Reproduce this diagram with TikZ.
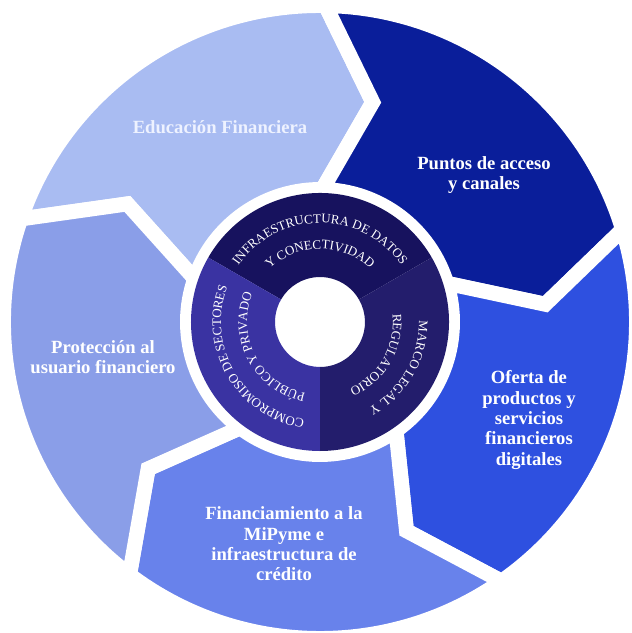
\documentclass[tikz,border=0pt]{standalone}
\usepackage{fontspec}
\setmainfont{Liberation Serif}
\usetikzlibrary{decorations.text}

\definecolor{edublue}{HTML}{A9BCF2}
\definecolor{puntoblue}{HTML}{0A1E9A}
\definecolor{ofertablue}{HTML}{2E50E0}
\definecolor{finblue}{HTML}{6882EB}
\definecolor{protblue}{HTML}{8A9EE8}
\definecolor{hubtop}{HTML}{17125E}
\definecolor{hubright}{HTML}{231D6C}
\definecolor{hubleft}{HTML}{3A33A2}
\definecolor{edutext}{HTML}{EEF2FF}

% radii of the outer arrow ring and the inner hub
\newcommand*{\ringouter}{316.5}
\newcommand*{\ringmid}{226}
\newcommand*{\ringinner}{132.5}
\newcommand*{\hubouter}{129}
\newcommand*{\hubinner}{45}
\newcommand*{\ringfont}{\fontsize{7.4}{8}\selectfont}

\tikzset{
  segment/.style={draw=white, line width=8.5pt, line join=miter},
  seglabel/.style={text=white, align=center, font=\bfseries\fontsize{10.6}{11.6}\selectfont},
  ringtext/.style={decorate, decoration={text along path, text align=center, text color=white, text={#1}}}
}

\begin{document}
\begin{tikzpicture}[x=0.02cm, y=0.02cm]
\useasboundingbox (-320,-311) rectangle (312,322);

% outer arrows, running clockwise
\foreach \a/\b/\c in {161/89/edublue, 89/17/puntoblue, 17/-55/ofertablue, -55/-127/finblue, -127/-199/protblue}
  \path[segment, fill=\c] (\a:\ringouter) arc[start angle=\a, end angle=\b, radius=\ringouter]
    -- ({\b-12.5}:\ringmid) -- (\b:\ringinner)
    arc[start angle=\b, end angle=\a, radius=\ringinner] -- ({\a-12.5}:\ringmid) -- cycle;

% hub with three sectors
\foreach \a/\b/\c in {150/30/hubtop, 30/-90/hubright, 270/150/hubleft}
  \fill[\c] (\a:\hubouter) arc[start angle=\a, end angle=\b, radius=\hubouter]
    -- (\b:\hubinner) arc[start angle=\b, end angle=\a, radius=\hubinner] -- cycle;

\node[seglabel, text=edutext] (edu) at (-100,195) {Educación Financiera};
\node[seglabel] (puntos) at (164,147) {Puntos de acceso\\y canales};
\node[seglabel] (oferta) at (209,-98) {Oferta de\\productos y\\servicios\\financieros\\digitales};
\node[seglabel] (finan) at (-36,-222) {Financiamiento a la\\MiPyme e\\infraestructura de\\crédito};
\node[seglabel] (prot) at (-217,-35) {Protección al\\usuario financiero};

% curved hub labels
\path[ringtext={|\ringfont|INFRAESTRUCTURA DE DATOS}] (170:99) arc[start angle=170, end angle=10, radius=99];
\path[ringtext={|\ringfont|Y CONECTIVIDAD}] (170:73) arc[start angle=170, end angle=10, radius=73];
\path[ringtext={|\ringfont|MARCO LEGAL Y}] (50:99) arc[start angle=50, end angle=-110, radius=99];
\path[ringtext={|\ringfont|REGULATORIO}] (50:73) arc[start angle=50, end angle=-110, radius=73];
\path[ringtext={|\ringfont|COMPROMISO DE SECTORES}] (290:99) arc[start angle=290, end angle=130, radius=99];
\path[ringtext={|\ringfont|PÚBLICO Y PRIVADO}] (288:73) arc[start angle=288, end angle=128, radius=73];
\end{tikzpicture}
\end{document}
